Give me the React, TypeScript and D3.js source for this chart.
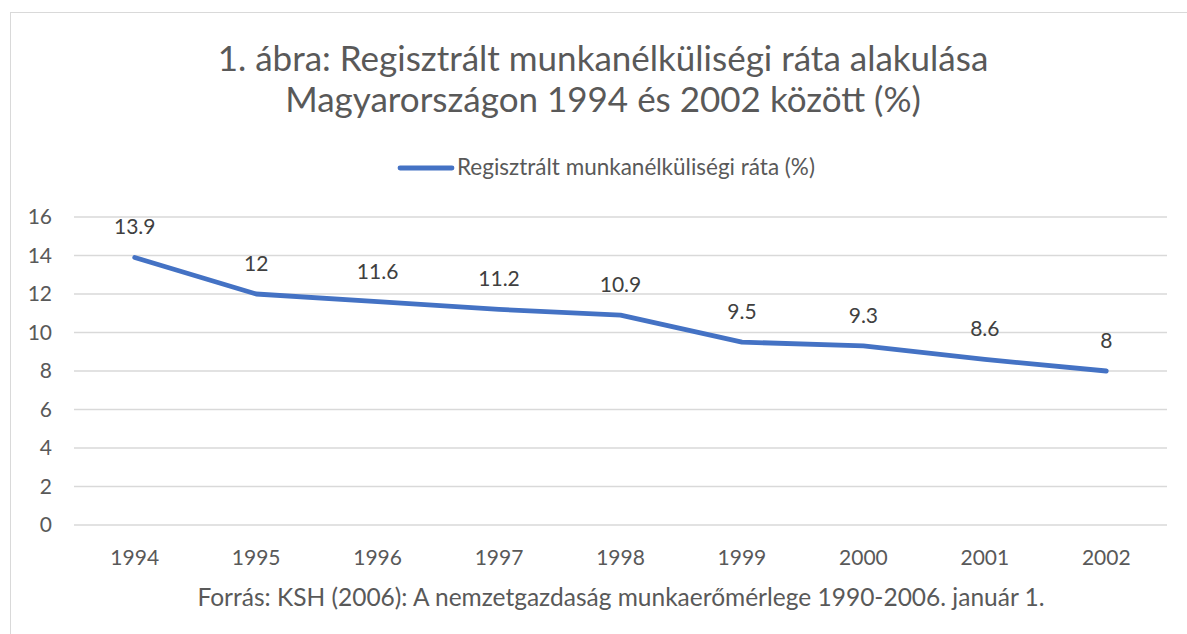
import React from 'react';
import * as d3 from 'd3';

const years = ['1994', '1995', '1996', '1997', '1998', '1999', '2000', '2001', '2002'];
const rate = [13.9, 12, 11.6, 11.2, 10.9, 9.5, 9.3, 8.6, 8];
const yTicks = [0, 2, 4, 6, 8, 10, 12, 14, 16];

const titleLines = [
  '1. ábra: Regisztrált munkanélküliségi ráta alakulása',
  'Magyarországon 1994 és 2002 között (%)',
];
const legendLabel = 'Regisztrált munkanélküliségi ráta (%)';
const sourceText = 'Forrás: KSH (2006): A nemzetgazdaság munkaerőmérlege 1990-2006. január 1.';

export default function App() {
  const width = 1187;
  const height = 634;
  const font = 'Lato, "Open Sans", sans-serif';
  const textColor = '#595959';

  // plot area
  const left = 74;
  const right = 1167;
  const top = 217;
  const bottom = 525;

  const x = d3.scaleBand().domain(years).range([left, right]);
  const y = d3.scaleLinear().domain([0, 16]).range([bottom, top]);

  const pts = years.map((yr, i) => ({ yr, v: rate[i] }));
  const line = d3
    .line<{ yr: string; v: number }>()
    .x(d => (x(d.yr) as number) + x.bandwidth() / 2)
    .y(d => y(d.v));

  return (
    <svg
      width={width}
      height={height}
      style={{ position: 'absolute', left: 0, top: 0, background: '#fff' }}
      fontFamily={font}
    >
      <rect x={10.5} y={12.5} width={1200} height={700} fill="#fff" stroke="#d9d9d9" />

      {titleLines.map((t, i) => (
        <text
          key={i}
          x={603}
          y={71 + i * 41}
          textAnchor="middle"
          fontSize={35}
          fill={textColor}
        >
          {t}
        </text>
      ))}

      {/* legend */}
      <line x1={400} x2={452} y1={168} y2={168} stroke="#4472C4" strokeWidth={4.8} strokeLinecap="round" />
      <text x={457} y={175} fontSize={22.5} fill={textColor}>
        {legendLabel}
      </text>

      {/* grid + y labels */}
      {yTicks.map(t => (
        <g key={t}>
          <line x1={left} x2={right} y1={y(t)} y2={y(t)} stroke="#d9d9d9" strokeWidth={1.3} />
          <text x={52} y={y(t) + 7} textAnchor="end" fontSize={21} fill={textColor}>
            {t}
          </text>
        </g>
      ))}

      {/* x labels */}
      {years.map(yr => (
        <text
          key={yr}
          x={(x(yr) as number) + x.bandwidth() / 2}
          y={565}
          textAnchor="middle"
          fontSize={21}
          fill={textColor}
        >
          {yr}
        </text>
      ))}

      <path d={line(pts) ?? ''} fill="none" stroke="#4472C4" strokeWidth={4.8} strokeLinecap="round" strokeLinejoin="round" />

      {/* data labels */}
      {pts.map(p => (
        <text
          key={p.yr}
          x={(x(p.yr) as number) + x.bandwidth() / 2}
          y={y(p.v) - 23}
          textAnchor="middle"
          fontSize={21}
          fill="#404040"
        >
          {p.v}
        </text>
      ))}

      <text x={621} y={606} textAnchor="middle" fontSize={24.5} fill={textColor}>
        {sourceText}
      </text>
    </svg>
  );
}
